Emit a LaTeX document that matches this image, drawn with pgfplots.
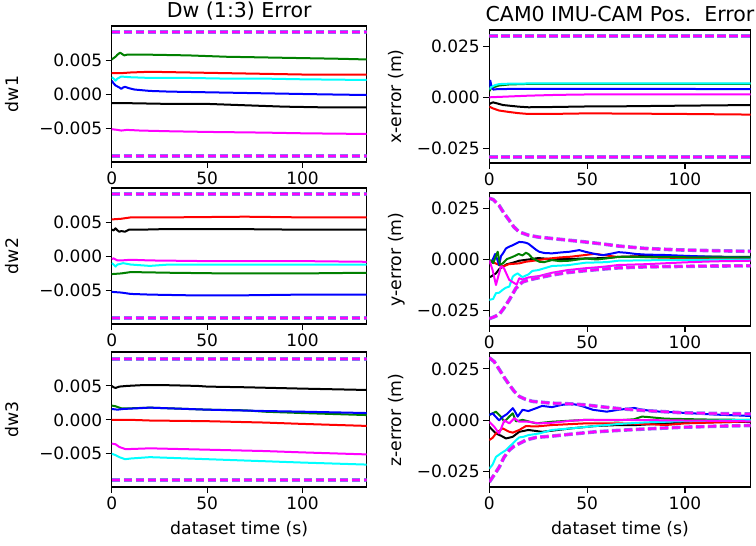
\documentclass[border=0pt]{standalone}
\usepackage{fontspec}
\setmainfont{DejaVu Sans}
\usepackage{pgfplots}
\pgfplotsset{compat=1.18}
\definecolor{cR}{rgb}{1,0,0}
\definecolor{cG}{rgb}{0,0.5,0}
\definecolor{cB}{rgb}{0,0,1}
\definecolor{cC}{rgb}{0,1,1}
\definecolor{cM}{rgb}{1,0,1}
\definecolor{cK}{rgb}{0,0,0}
\definecolor{cL}{rgb}{0.55,0.45,0.95}
\pgfplotsset{
 baseax/.style={
  scale only axis, xmin=0, xmax=133.6,
  scaled x ticks=false, scaled y ticks=false,
  axis line style={line width=1.1pt},
  tick align=outside, major tick length=6pt, tick style={line width=1.1pt, black},
  tick pos=left,
  xtick={0,50,100}, xticklabels={0,50,100},
  tick label style={font=\fontsize{17}{20}\selectfont},
  label style={font=\fontsize{17.3}{20}\selectfont},
  title style={font=\fontsize{20.5}{24}\selectfont, at={(0.5,1)}, anchor=base, yshift=2.5pt},
  every axis plot/.append style={line width=2pt, line join=round, mark=none},
  xlabel style={at={(axis description cs:0.5,0)}, anchor=base, yshift=-48pt},
 },
 axL/.style={baseax, width=255pt, ymin=-0.0099, ymax=0.0100,
  ytick={-0.005,0,0.005}, yticklabels={−0.005,0.000,0.005},
  ylabel style={at={([xshift=-93pt]axis description cs:0,0.5)}, anchor=base}},
 axR/.style={baseax, width=261.4pt,
  ytick={-0.025,0,0.025}, yticklabels={−0.025,0.000,0.025},
  ylabel style={at={([xshift=-88pt]axis description cs:0,0.5)}, anchor=base}},
 bndL/.style={cL, line width=3.6pt, dash pattern=on 8.5pt off 3.5pt},
 bndM/.style={cM, line width=2.2pt, dash pattern=on 8.5pt off 3.5pt},
}
\pgfplotstableread{
t v
0 0.0298
2 0.0292
5 0.0263
7.5 0.0225
10.2 0.0190
12.5 0.0158
15.3 0.0133
20 0.0117
25 0.0108
32 0.0101
40 0.0093
49 0.0084
58 0.0074
66 0.0064
80 0.0052
97 0.0045
115 0.0041
134 0.0038
}\yup
\pgfplotstableread{
t v
0 -0.0292
2 -0.0285
5 -0.0272
7.5 -0.0240
10.2 -0.0200
13.6 -0.0143
17 -0.0112
20 -0.0103
24 -0.0094
32 -0.0078
40 -0.0066
49 -0.0057
58 -0.0049
66 -0.0043
80 -0.0038
97 -0.0036
115 -0.0034
134 -0.0033
}\ylo
\pgfplotstableread{
t v
0 0.0304
2.5 0.0285
5.1 0.0247
7.5 0.0210
10.2 0.0173
12.8 0.0140
15.3 0.0116
18.5 0.0102
22 0.0092
32 0.0083
41 0.0080
49 0.0075
58 0.0065
66 0.0057
80 0.0047
98 0.0037
115 0.0033
134 0.0031
}\zup
\pgfplotstableread{
t v
0 -0.0300
2.5 -0.0265
5.1 -0.0227
7.5 -0.0180
10.2 -0.0145
12.8 -0.0125
15.3 -0.0113
19 -0.0095
24 -0.0083
32 -0.0077
42 -0.0067
54 -0.0056
66 -0.0049
80 -0.0042
98 -0.0034
115 -0.0029
134 -0.0025
}\zlo
\begin{document}
\begin{tikzpicture}
\useasboundingbox (0,0) rectangle (756pt,546pt);
% ---------- dw1
\begin{axis}[axL, at={(111.7pt,384pt)}, anchor=south west, height=136pt, ylabel={dw1}, title={Dw (1:3) Error}]
\addplot[cK] coordinates {(0,-0.0013)(10,-0.0013)(30,-0.0014)(50,-0.0014)(70,-0.0016)(90,-0.0018)(110,-0.0019)(134,-0.0019)};
\addplot[cR] coordinates {(0,0.0031)(5,0.0031)(10,0.0032)(20,0.0033)(40,0.0032)(60,0.0031)(80,0.0030)(100,0.0029)(134,0.0029)};
\addplot[cG] coordinates {(0,0.0051)(1,0.0053)(2,0.0055)(3,0.0058)(4.4,0.0061)(5.5,0.0059)(6.5,0.0057)(8,0.0058)(12,0.0058)(20,0.0058)(40,0.0057)(60,0.0055)(80,0.0054)(100,0.0053)(120,0.0052)(134,0.0051)};
\addplot[cB] coordinates {(0,0.0020)(1,0.0016)(2,0.0013)(4,0.0010)(5,0.0008)(6,0.0010)(7,0.0011)(9,0.0009)(12,0.0007)(20,0.0005)(30,0.0004)(50,0.0003)(70,0.0002)(90,0.0001)(110,0.0)(134,-0.0001)};
\addplot[cC] coordinates {(0,0.0025)(1,0.0023)(2,0.0020)(3,0.0023)(5,0.0026)(10,0.0025)(20,0.0024)(40,0.0024)(60,0.0023)(80,0.0023)(100,0.0022)(134,0.0021)};
\addplot[cM] coordinates {(0,-0.0051)(3,-0.0052)(5,-0.0053)(8,-0.0052)(15,-0.0053)(30,-0.0054)(50,-0.0055)(80,-0.0056)(100,-0.0057)(134,-0.0058)};
\addplot[bndL] coordinates {(0,0.0091)(134,0.0091)};
\addplot[bndM] coordinates {(0,0.0091)(134,0.0091)};
\addplot[bndL] coordinates {(0,-0.0090)(134,-0.0090)};
\addplot[bndM] coordinates {(0,-0.0090)(134,-0.0090)};
\end{axis}
% ---------- dw2
\begin{axis}[axL, at={(111.7pt,222pt)}, anchor=south west, height=136pt, ylabel={dw2}]
\addplot[cK] coordinates {(0,0.0039)(1,0.0038)(2,0.0041)(3,0.0038)(4,0.0036)(5,0.0037)(7,0.0036)(9,0.0039)(15,0.0039)(30,0.0040)(60,0.0040)(100,0.0039)(134,0.0039)};
\addplot[cR] coordinates {(0,0.0054)(5,0.0055)(10,0.0057)(30,0.0057)(70,0.0058)(100,0.0057)(134,0.0057)};
\addplot[cG] coordinates {(0,-0.0026)(5,-0.0025)(10,-0.0023)(30,-0.0024)(60,-0.0025)(100,-0.0025)(134,-0.0024)};
\addplot[cB] coordinates {(0,-0.0052)(5,-0.0053)(10,-0.0055)(20,-0.0056)(40,-0.0057)(70,-0.0057)(100,-0.0056)(134,-0.0056)};
\addplot[cC] coordinates {(0,-0.0010)(1,-0.0012)(2,-0.0015)(3,-0.0012)(6,-0.0010)(10,-0.0012)(20,-0.0014)(30,-0.0012)(60,-0.0012)(100,-0.0012)(134,-0.0012)};
\addplot[cM] coordinates {(0,-0.0004)(1,-0.0003)(3,-0.0006)(5,-0.0006)(10,-0.0005)(20,-0.0006)(50,-0.0007)(100,-0.0007)(134,-0.0008)};
\addplot[bndL] coordinates {(0,0.0091)(134,0.0091)};
\addplot[bndM] coordinates {(0,0.0091)(134,0.0091)};
\addplot[bndL] coordinates {(0,-0.0090)(134,-0.0090)};
\addplot[bndM] coordinates {(0,-0.0090)(134,-0.0090)};
\end{axis}
% ---------- dw3
\begin{axis}[axL, at={(111.7pt,59pt)}, anchor=south west, height=135pt, ylabel={dw3}, xlabel={dataset time (s)}]
\addplot[cK] coordinates {(0,0.0050)(1,0.0048)(2,0.0047)(4,0.0049)(8,0.0050)(15,0.0051)(30,0.0051)(45,0.0050)(50,0.0049)(70,0.0048)(100,0.0046)(134,0.0044)};
\addplot[cR] coordinates {(0,0.0)(10,0.0)(20,-0.0001)(50,-0.0002)(80,-0.0004)(100,-0.0006)(134,-0.0009)};
\addplot[cG] coordinates {(0,0.0021)(2,0.0020)(5,0.0017)(10,0.0017)(20,0.0018)(30,0.0017)(50,0.0015)(70,0.0014)(80,0.0012)(100,0.0010)(134,0.0007)};
\addplot[cB] coordinates {(0,0.0016)(3,0.0015)(6,0.0016)(20,0.0018)(40,0.0016)(50,0.0015)(80,0.0013)(100,0.0012)(134,0.0010)};
\addplot[cC] coordinates {(0,-0.0050)(2,-0.0052)(4,-0.0055)(7,-0.0058)(10,-0.0057)(20,-0.0055)(30,-0.0056)(50,-0.0058)(80,-0.0061)(100,-0.0063)(134,-0.0066)};
\addplot[cM] coordinates {(0,-0.0035)(2,-0.0036)(4,-0.0040)(7,-0.0043)(10,-0.0043)(20,-0.0042)(50,-0.0044)(80,-0.0046)(100,-0.0048)(134,-0.0051)};
\addplot[bndL] coordinates {(0,0.0090)(134,0.0090)};
\addplot[bndM] coordinates {(0,0.0090)(134,0.0090)};
\addplot[bndL] coordinates {(0,-0.0089)(134,-0.0089)};
\addplot[bndM] coordinates {(0,-0.0089)(134,-0.0089)};
\end{axis}
% ---------- x-error
\begin{axis}[axR, at={(489.3pt,383pt)}, anchor=south west, height=133pt, ymin=-0.0323, ymax=0.0331, ylabel={x-error (m)}, title={CAM0 IMU-CAM Pos.\ \ Error}]
\addplot[cK] coordinates {(0,-0.0033)(1,-0.0028)(2,-0.0025)(4,-0.0030)(7,-0.0038)(10,-0.0041)(15,-0.0046)(20,-0.0049)(30,-0.0048)(50,-0.0045)(70,-0.0044)(100,-0.0041)(134,-0.0038)};
\addplot[cR] coordinates {(0,-0.0046)(2,-0.0055)(5,-0.0065)(10,-0.0072)(15,-0.0078)(20,-0.0082)(30,-0.0082)(50,-0.0079)(70,-0.0080)(100,-0.0082)(134,-0.0085)};
\addplot[cG] coordinates {(0,0.0030)(1,0.0045)(3,0.0052)(5,0.0058)(10,0.0063)(20,0.0066)(50,0.0066)(134,0.0066)};
\addplot[cB] coordinates {(0,0.0050)(0.5,0.0082)(1,0.0060)(2,0.0038)(4,0.0040)(10,0.0041)(50,0.0041)(100,0.0041)(134,0.0040)};
\addplot[cC] coordinates {(0,0.0040)(1,0.0050)(3,0.0060)(5,0.0065)(10,0.0067)(20,0.0068)(50,0.0068)(100,0.0069)(134,0.0069)};
\addplot[cM] coordinates {(0,0.0)(5,0.0002)(10,0.0004)(20,0.0008)(35,0.0012)(50,0.0014)(100,0.0015)(134,0.0015)};
\addplot[bndL] coordinates {(0,0.0301)(134,0.0301)};
\addplot[bndM] coordinates {(0,0.0301)(134,0.0301)};
\addplot[bndL] coordinates {(0,-0.0293)(134,-0.0293)};
\addplot[bndM] coordinates {(0,-0.0293)(134,-0.0293)};
\end{axis}
% ---------- y-error
\begin{axis}[axR, at={(489.3pt,220pt)}, anchor=south west, height=133pt, ymin=-0.0328, ymax=0.0324, ylabel={y-error (m)}]
\addplot[cK] coordinates {(0,-0.0089)(1,-0.0085)(2,-0.0078)(3.4,-0.0070)(5,-0.0050)(6.8,-0.0037)(9,-0.0025)(12,-0.0018)(15.3,-0.0008)(20,-0.0002)(25,0.0005)(32,0.0)(40,0.0)(49,0.0003)(60,0.0005)(66,0.0011)(80,0.0015)(100,0.0012)(134,0.0011)};
\addplot[cR] coordinates {(0,-0.0013)(3,-0.0020)(6.8,-0.0037)(10,-0.0025)(15.3,-0.0021)(18.7,-0.0013)(25,-0.0005)(30,0.0002)(36,0.0008)(42,0.0012)(49,0.0020)(54,0.0026)(58,0.0020)(66,0.0010)(75,0.0012)(85,0.0008)(100,0.0005)(134,0.0002)};
\addplot[cB] coordinates {(0,-0.0010)(1,-0.0015)(2,0.0003)(3,0.0025)(4,0.0)(5,-0.0030)(6,0.0015)(7,0.0028)(8.5,0.0052)(10,0.0060)(12,0.0068)(14,0.0078)(15.3,0.0084)(17,0.0083)(18.7,0.0080)(20,0.0075)(22,0.0060)(24,0.0045)(25.5,0.0036)(28,0.0030)(32,0.0028)(36,0.0032)(41,0.0036)(46,0.0044)(49,0.0036)(54,0.0025)(58,0.0019)(62,0.0026)(66,0.0034)(70,0.0031)(75,0.0025)(80,0.0022)(90,0.0020)(100,0.0016)(115,0.0011)(134,0.0008)};
\addplot[cG] coordinates {(0,-0.0005)(1,-0.0008)(2,-0.0020)(3,0.0005)(4.3,0.0036)(5.5,-0.0029)(7,-0.0020)(9,0.0)(12,0.0011)(15,0.0025)(17,0.0018)(18.7,0.0031)(20,0.0025)(22,0.0005)(25.5,-0.0013)(28,-0.0015)(32,-0.0005)(36,-0.0010)(41,-0.0008)(49,0.0003)(55,-0.0002)(66,0.0011)(80,0.0010)(100,0.0009)(134,0.0008)};
\addplot[cC] coordinates {(0,-0.0200)(2,-0.0195)(3.4,-0.0167)(5,-0.0165)(6.8,-0.0151)(8.5,-0.0140)(10.2,-0.0135)(12,-0.0086)(13,-0.0078)(14.5,-0.0070)(16,-0.0082)(17,-0.0088)(20,-0.0075)(22,-0.0058)(25,-0.0054)(32,-0.0034)(40,-0.0030)(49,-0.0018)(60,-0.0015)(66,-0.0008)(80,-0.0006)(100,-0.0004)(134,-0.0002)};
\addplot[cM] coordinates {(0,-0.0005)(1.7,-0.0054)(3.4,-0.0127)(5,-0.0070)(6,-0.0035)(7.5,-0.0045)(10.2,-0.0102)(12.8,-0.0118)(14,-0.0125)(15.3,-0.0094)(17,-0.0100)(20,-0.0090)(25.5,-0.0083)(32,-0.0067)(40,-0.0054)(49,-0.0045)(58,-0.0038)(66,-0.0029)(80,-0.0025)(100,-0.0016)(115,-0.0011)(134,-0.0008)};
\addplot[bndL] table[x=t,y=v] {\yup};
\addplot[bndM] table[x=t,y=v] {\yup};
\addplot[bndL] table[x=t,y=v] {\ylo};
\addplot[bndM] table[x=t,y=v] {\ylo};
\end{axis}
% ---------- z-error
\begin{axis}[axR, at={(489.3pt,59pt)}, anchor=south west, height=134pt, ymin=-0.0324, ymax=0.0327, ylabel={z-error (m)}, xlabel={dataset time (s)}]
\addplot[cK] coordinates {(0,-0.0031)(3.4,-0.0064)(6,-0.0075)(8.5,-0.0088)(10,-0.0085)(12,-0.0080)(15.3,-0.0056)(20,-0.0047)(27,-0.0056)(35,-0.0047)(42,-0.0039)(54,-0.0028)(66,-0.0023)(75,-0.0023)(90,-0.0015)(110,-0.0010)(134,-0.0007)};
\addplot[cR] coordinates {(0,-0.0096)(1.7,-0.0085)(3.4,-0.0064)(6.8,-0.0039)(10,-0.0055)(12,-0.0060)(15.3,-0.0047)(18.7,-0.0028)(24,-0.0030)(32,-0.0023)(49,-0.0015)(66,-0.0015)(80,-0.0018)(90,-0.0023)(100,-0.0015)(134,-0.0005)};
\addplot[cG] coordinates {(0,0.0026)(1,0.0030)(3.4,0.0042)(5.9,0.0018)(7.7,-0.0007)(10.2,0.0018)(12,0.0034)(13.6,-0.0005)(17,0.0002)(24,-0.0015)(32,-0.0007)(41,-0.0002)(49,0.0002)(66,0.0)(74,0.0005)(78,0.0018)(81,0.0016)(90,0.0008)(110,0.0004)(134,0.0002)};
\addplot[cB] coordinates {(0,0.0026)(1.7,0.0034)(3,0.0020)(5,0.0)(7,0.0018)(9,0.0030)(12,0.0059)(13,0.0045)(14.5,0.0018)(17,0.0051)(20,0.0045)(24,0.0059)(27,0.0070)(32,0.0064)(37,0.0075)(42,0.0080)(45,0.0075)(48,0.0067)(53,0.0051)(60,0.0042)(66,0.0051)(74,0.0060)(78,0.0052)(84,0.0044)(98,0.0037)(115,0.0028)(134,0.0021)};
\addplot[cC] coordinates {(0,-0.0235)(1.7,-0.0215)(3.4,-0.0178)(6,-0.0160)(8.5,-0.0145)(10,-0.0130)(12,-0.0113)(13.5,-0.0098)(15.3,-0.0083)(17.5,-0.0080)(20,-0.0072)(25.5,-0.0064)(32,-0.0047)(42,-0.0039)(54,-0.0028)(66,-0.0018)(80,-0.0010)(100,-0.0004)(134,0.0002)};
\addplot[cM] coordinates {(0,-0.0007)(2.5,-0.0031)(5,-0.0064)(7.7,0.0)(10.2,-0.0015)(12.8,0.0010)(15.3,-0.0007)(20,-0.0007)(25.5,-0.0015)(32,-0.0012)(42,-0.0002)(49,0.0002)(66,0.0002)(90,0.0)(110,-0.0002)(134,-0.0005)};
\addplot[bndL] table[x=t,y=v] {\zup};
\addplot[bndM] table[x=t,y=v] {\zup};
\addplot[bndL] table[x=t,y=v] {\zlo};
\addplot[bndM] table[x=t,y=v] {\zlo};
\end{axis}
\end{tikzpicture}
\end{document}
